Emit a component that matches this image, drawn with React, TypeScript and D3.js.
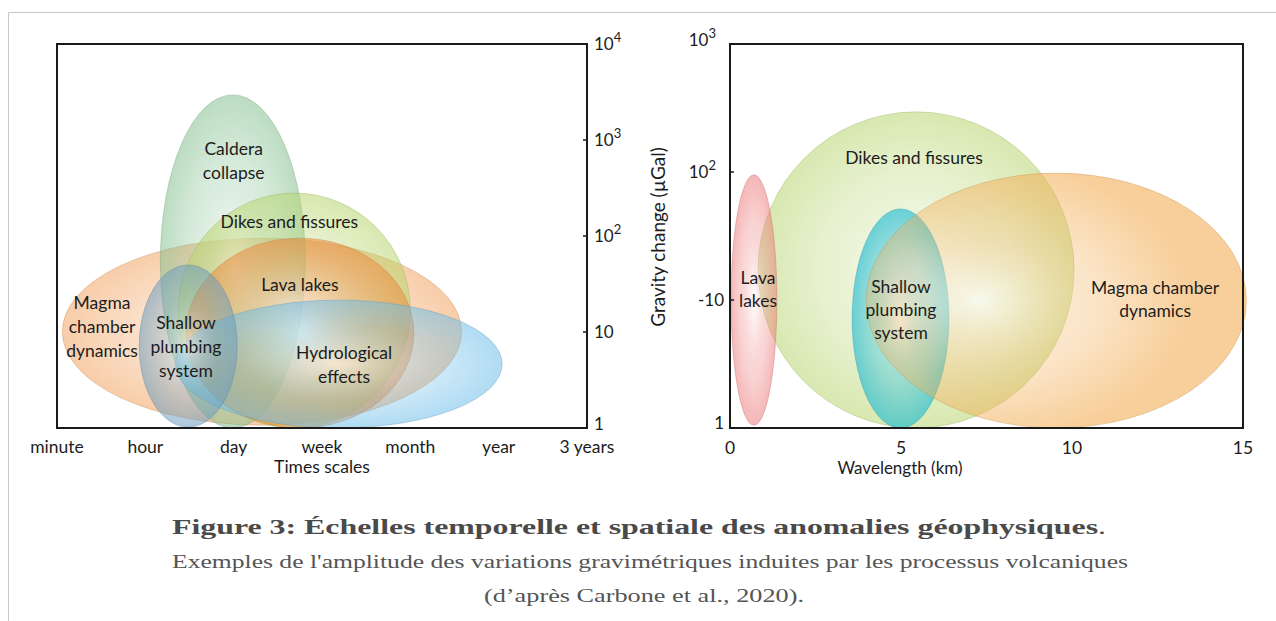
import React from "react";
import * as d3 from "d3";

// ---------- Left panel: time scales ----------
const timeCategories = ["minute", "hour", "day", "week", "month", "year", "3 years"];
const leftYTicks = [1, 10, 100, 1000, 10000];
const leftYTickBase = ["1", "10", "10", "10", "10"];
const leftYTickExp = ["", "", "2", "3", "4"];

const leftNames = ["magma", "caldera", "dikes", "lava", "hydro", "shallow"];
const leftX0 = [0.06, 1.17, 1.37, 1.46, 1.34, 0.93];
const leftX1 = [4.58, 2.81, 4.0, 4.04, 5.04, 2.04];
const leftY0 = [1.07, 1, 1, 1, 1, 1.02];
const leftY1 = [95, 2950, 280, 95, 21.5, 50];
const leftColors = ["#f2a361", "#84c08f", "#b7d56c", "#ec8a3c", "#6ebee9", "#699bbe"];

const leftLabels = [
  ["Magma", "chamber", "dynamics"],
  ["Caldera", "collapse"],
  ["Dikes and fissures"],
  ["Lava lakes"],
  ["Hydrological", "effects"],
  ["Shallow", "plumbing", "system"],
];
const leftLabelX = [0.51, 2.0, 2.63, 2.75, 3.25, 1.46];
const leftLabelY = [11.3, 603, 140, 30.9, 4.59, 6.98];

// ---------- Right panel: wavelength ----------
const wavelengthTicks = [0, 5, 10, 15];
const rightYTicks = [1, 10, 100, 1000];
const rightYTickBase = ["1", "-10", "10", "10"];
const rightYTickExp = ["", "", "2", "3"];

const rightNames = ["dikes", "shallow", "magma", "lava"];
const rightX0 = [0.82, 3.57, 3.98, 0.03];
const rightX1 = [10.06, 6.4, 15.1, 1.37];
const rightY0 = [1, 1, 1, 1.05];
const rightY1 = [295, 51.5, 98, 95];
const rightColors = ["#b7d56e", "#20bcd4", "#f3af57", "#ed7b7b"];
const rightLabels = [
  ["Dikes and fissures"],
  ["Shallow", "plumbing", "system"],
  ["Magma chamber", "dynamics"],
  ["Lava", "lakes"],
];
const rightLabelX = [5.38, 5.0, 12.43, 0.82];
const rightLabelY = [129, 8.4, 10.2, 12.0];

const FONT = "Lato, 'Open Sans', sans-serif";
const TXT = "#1c1c1c";

function Ell({ id, x0, x1, y0, y1, color, fx = 0.5, op = 0.6 }) {
  const cx = (x0 + x1) / 2;
  const cy = (y0 + y1) / 2;
  const rx = Math.abs(x1 - x0) / 2;
  const ry = Math.abs(y1 - y0) / 2;
  return (
    <g>
      <defs>
        <radialGradient id={id} cx={fx} cy="0.5" r="0.55" fx={fx} fy="0.5">
          <stop offset="0" stopColor="#ffffff" stopOpacity={0.9} />
          <stop offset="0.55" stopColor={color} stopOpacity={0.55} />
          <stop offset="1" stopColor={color} stopOpacity={1} />
        </radialGradient>
      </defs>
      <ellipse
        cx={cx}
        cy={cy}
        rx={rx}
        ry={ry}
        fill={`url(#${id})`}
        fillOpacity={op}
        stroke={d3.color(color).darker(0.6).formatHex()}
        strokeOpacity={0.35}
        strokeWidth={1}
      />
    </g>
  );
}

function Label({ lines, x, y, size = 17.5, lh = 24 }) {
  const n = lines.length;
  return (
    <text textAnchor="middle" fontFamily={FONT} fontSize={size} fill={TXT}>
      {lines.map((l, i) => (
        <tspan key={i} x={x} y={y + (i - (n - 1) / 2) * lh} dy="0.35em">
          {l}
        </tspan>
      ))}
    </text>
  );
}

export default function App() {
  // left panel scales
  const lx = d3.scaleLinear().domain([0, timeCategories.length - 1]).range([57, 587]);
  const lxp = d3.scalePoint().domain(timeCategories).range([57, 587]);
  const ly = d3.scaleLog().domain([1, 10000]).range([428, 44]);

  // right panel scales
  const rx = d3.scaleLinear().domain([0, 15]).range([730, 1243]);
  const ry = d3.scaleLog().domain([1, 1000]).range([428, 44]);

  return (
    <svg
      width={1276}
      height={621}
      style={{ position: "absolute", left: 0, top: 0, background: "#fff" }}
    >
      {/* page frame */}
      <line x1={8.5} y1={12.5} x2={1276} y2={12.5} stroke="#c8c8c8" strokeWidth={1} />
      <line x1={8.5} y1={12.5} x2={8.5} y2={621} stroke="#c8c8c8" strokeWidth={1} />

      {/* ---------- LEFT PANEL ---------- */}
      {leftNames.map((n, i) => (
        <Ell
          key={n}
          id={`lg-${n}`}
          x0={lx(leftX0[i])}
          x1={lx(leftX1[i])}
          y0={ly(leftY0[i])}
          y1={ly(leftY1[i])}
          color={leftColors[i]}
          op={0.6}
        />
      ))}
      {leftNames.map((n, i) => (
        <Label key={n} lines={leftLabels[i]} x={lx(leftLabelX[i])} y={ly(leftLabelY[i])} />
      ))}
      <rect x={57} y={44} width={530} height={384} fill="none" stroke="#1a1a1a" strokeWidth={2} />
      {leftYTicks.map((t) => (
        <line key={t} x1={583} x2={587} y1={ly(t)} y2={ly(t)} stroke="#1a1a1a" strokeWidth={1.5} />
      ))}
      {leftYTicks.map((t, i) => (
        <text key={t} x={594} y={ly(t)} dy={i === 0 ? "0.1em" : "0.35em"} fontFamily={FONT} fontSize={17} fill={TXT}>
          {leftYTickBase[i]}
          {leftYTickExp[i] && (
            <tspan dy={-8} fontSize={13}>
              {leftYTickExp[i]}
            </tspan>
          )}
        </text>
      ))}
      {timeCategories.map((c) => (
        <text key={c} x={lxp(c)} y={447} dy="0.35em" textAnchor="middle" fontFamily={FONT} fontSize={17.5} fill={TXT}>
          {c}
        </text>
      ))}
      <text x={322} y={467} dy="0.35em" textAnchor="middle" fontFamily={FONT} fontSize={17.5} fill={TXT}>
        Times scales
      </text>

      {/* ---------- RIGHT PANEL ---------- */}
      {rightNames.map((n, i) => (
        <Ell
          key={n}
          id={`rg-${n}`}
          x0={rx(rightX0[i])}
          x1={rx(rightX1[i])}
          y0={ry(rightY0[i])}
          y1={ry(rightY1[i])}
          color={rightColors[i]}
          fx={n === "magma" ? 0.3 : 0.5}
          op={n === "shallow" ? 0.7 : 0.6}
        />
      ))}
      {rightNames.map((n, i) => (
        <Label key={n} lines={rightLabels[i]} x={rx(rightLabelX[i])} y={ry(rightLabelY[i])} lh={23} />
      ))}
      <rect x={730} y={44} width={513} height={384} fill="none" stroke="#1a1a1a" strokeWidth={2} />
      {rightYTicks.map((t) => (
        <line key={t} x1={730} x2={734} y1={ry(t)} y2={ry(t)} stroke="#1a1a1a" strokeWidth={1.5} />
      ))}
      {rightYTicks.map((t, i) => (
        <text
          key={t}
          x={rightYTickExp[i] ? 716 : 724}
          y={ry(t)}
          dy={i === rightYTicks.length - 1 ? "0.1em" : i === 0 ? "0.05em" : "0.35em"}
          textAnchor="end"
          fontFamily={FONT}
          fontSize={17}
          fill={TXT}
        >
          {rightYTickBase[i]}
          {rightYTickExp[i] && (
            <tspan dy={-8} fontSize={13}>
              {rightYTickExp[i]}
            </tspan>
          )}
        </text>
      ))}
      {wavelengthTicks.map((t) => (
        <text key={t} x={rx(t)} y={448} dy="0.35em" textAnchor="middle" fontFamily={FONT} fontSize={17.5} fill={TXT}>
          {t}
        </text>
      ))}
      <text x={900} y={468} dy="0.35em" textAnchor="middle" fontFamily={FONT} fontSize={17} fill={TXT}>
        Wavelength (km)
      </text>
      <text
        transform="translate(658,237) rotate(-90)"
        dy="0.35em"
        textAnchor="middle"
        fontFamily={FONT}
        fontSize={19}
        fill={TXT}
      >
        Gravity change (µGal)
      </text>

      {/* ---------- CAPTION ---------- */}
      <text
        x={172}
        y={534}
        textLength={934}
        lengthAdjust="spacingAndGlyphs"
        fontFamily="'Liberation Serif', serif"
        fontSize={22}
        fill="#4a4a4a"
      >
        <tspan fontWeight="bold">Figure 3: Échelles temporelle et spatiale des anomalies géophysiques</tspan>
        <tspan>.</tspan>
      </text>
      <text
        x={172}
        y={568}
        textLength={956}
        lengthAdjust="spacingAndGlyphs"
        fontFamily="'Liberation Serif', serif"
        fontSize={19}
        fill="#555"
      >
        Exemples de l'amplitude des variations gravimétriques induites par les processus volcaniques
      </text>
      <text
        x={484}
        y={602}
        textLength={320}
        lengthAdjust="spacingAndGlyphs"
        fontFamily="'Liberation Serif', serif"
        fontSize={19}
        fill="#555"
      >
        (d’après Carbone et al., 2020).
      </text>
    </svg>
  );
}
